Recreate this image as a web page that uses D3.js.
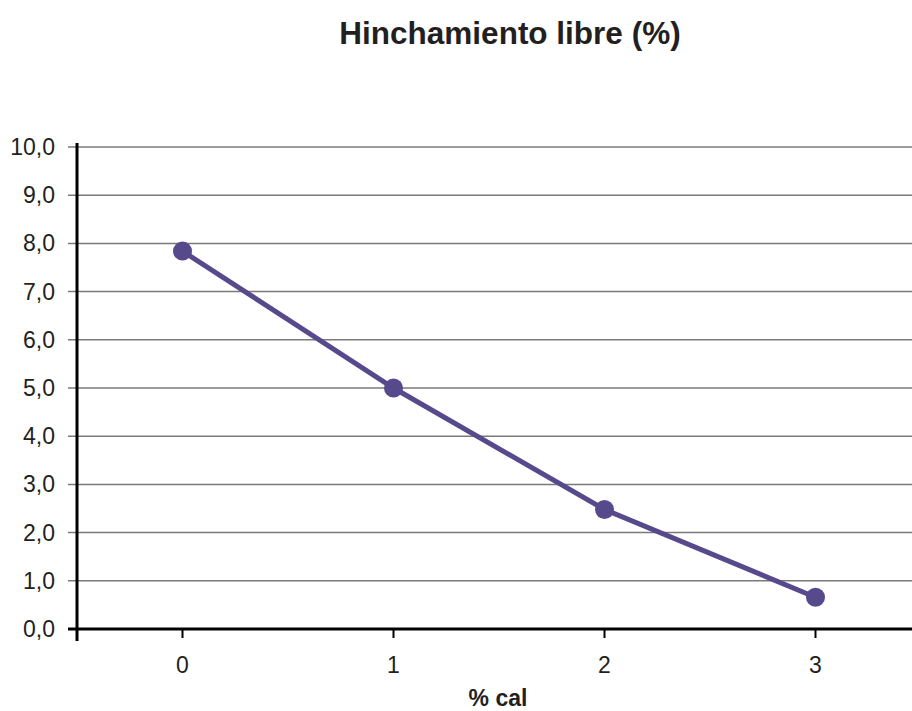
<!DOCTYPE html>
<html>
<head>
<meta charset="utf-8">
<script src="https://cdn.jsdelivr.net/npm/d3@7"></script>
<style>
  body { margin: 0; background: #fff; }
  text { font-family: "Liberation Sans", Arial, sans-serif; fill: #231f20; }
</style>
</head>
<body>
<svg id="chart" width="912" height="711"></svg>
<script>
// data
const categories = [0, 1, 2, 3];
const values = [7.84, 5.0, 2.48, 0.66];
const yTicks = [0, 1, 2, 3, 4, 5, 6, 7, 8, 9, 10];

const svg = d3.select("#chart");
const plotLeft = 77, plotRight = 921, plotTop = 147, plotBottom = 629;

const x = d3.scaleLinear().domain([-0.5, 3.5]).range([plotLeft, plotRight]);
const y = d3.scaleLinear().domain([0, 10]).range([plotBottom, plotTop]);
const fmt = d => d3.format(".1f")(d).replace(".", ",");

// gridlines
svg.append("g").selectAll("line")
    .data(yTicks.filter(d => d > 0))
    .join("line")
    .attr("x1", plotLeft - 9).attr("x2", 912)
    .attr("y1", d => y(d)).attr("y2", d => y(d))
    .attr("stroke", "#7a7a7a")
    .attr("stroke-width", 1.5);

// y tick labels
svg.append("g").selectAll("text")
    .data(yTicks)
    .join("text")
    .attr("x", 55)
    .attr("y", d => y(d))
    .attr("dy", "0.35em")
    .attr("text-anchor", "end")
    .style("font-size", "23px")
    .text(fmt);

// y axis line
svg.append("line")
    .attr("x1", plotLeft).attr("x2", plotLeft)
    .attr("y1", plotTop - 4).attr("y2", plotBottom + 12)
    .attr("stroke", "#000").attr("stroke-width", 3);

// x axis line
svg.append("line")
    .attr("x1", plotLeft - 9).attr("x2", 912)
    .attr("y1", plotBottom).attr("y2", plotBottom)
    .attr("stroke", "#000").attr("stroke-width", 3);

// x ticks
svg.append("g").selectAll("line")
    .data(categories)
    .join("line")
    .attr("x1", d => x(d)).attr("x2", d => x(d))
    .attr("y1", plotBottom).attr("y2", plotBottom + 9)
    .attr("stroke", "#000").attr("stroke-width", 2);

svg.append("g").selectAll("text")
    .data(categories)
    .join("text")
    .attr("x", d => x(d))
    .attr("y", 673)
    .attr("text-anchor", "middle")
    .style("font-size", "23px")
    .text(d => d);

// series
const line = d3.line()
    .x((d, i) => x(categories[i]))
    .y(d => y(d));

svg.append("path")
    .datum(values)
    .attr("d", line)
    .attr("fill", "none")
    .attr("stroke", "#574a8c")
    .attr("stroke-width", 5);

svg.append("g").selectAll("circle")
    .data(values)
    .join("circle")
    .attr("cx", (d, i) => x(categories[i]))
    .attr("cy", d => y(d))
    .attr("r", 9.5)
    .attr("fill", "#574a8c");

// titles
svg.append("text")
    .attr("x", 510).attr("y", 44)
    .attr("text-anchor", "middle")
    .style("font-size", "31.5px")
    .style("font-weight", "bold")
    .text("Hinchamiento libre (%)");

svg.append("text")
    .attr("x", 498).attr("y", 706)
    .attr("text-anchor", "middle")
    .style("font-size", "23px")
    .style("font-weight", "bold")
    .text("% cal");
</script>
</body>
</html>
